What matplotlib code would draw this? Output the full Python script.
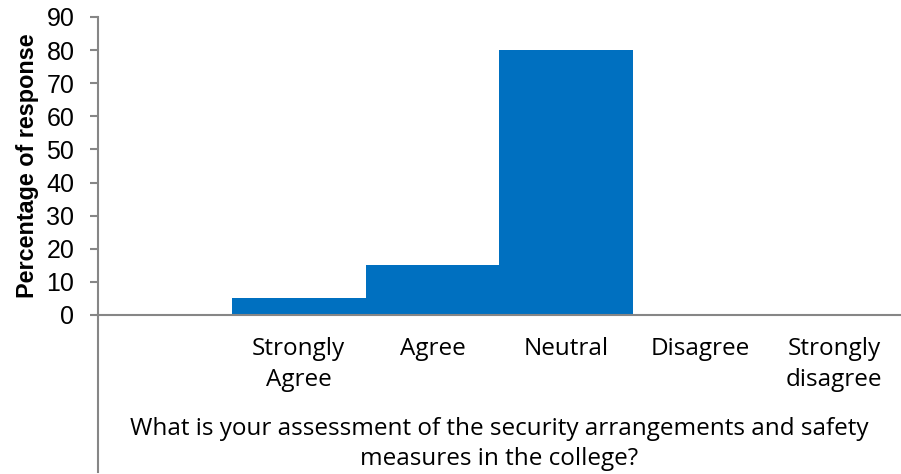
import matplotlib
matplotlib.use("Agg")
import matplotlib.pyplot as plt
from matplotlib.lines import Line2D

categories = ["", "Strongly\nAgree", "Agree", "Neutral", "Disagree", "Strongly\ndisagree"]
values = [0, 5, 15, 80, 0, 0]
yticks = [0, 10, 20, 30, 40, 50, 60, 70, 80, 90]

W, H = 901, 474
fig = plt.figure(figsize=(W / 100, H / 100), dpi=100)
ax = fig.add_axes([98 / W, (H - 315) / H, (W - 98) / W, (315 - 17) / H])

axis_color = "#868686"
ax.bar(range(len(categories)), values, width=1.0, color="#0070C0", zorder=2)

ax.set_xlim(-0.5, len(categories) - 0.5)
ax.set_ylim(0, 90)
ax.set_yticks(yticks)
ax.set_yticklabels([str(v) for v in yticks], fontfamily="Liberation Sans", fontsize=18)
ax.set_xticks(range(len(categories)))
ax.set_xticklabels(categories, fontfamily="Open Sans", fontsize=17.5, linespacing=1.35)

for s in ["top", "right"]:
    ax.spines[s].set_visible(False)
ax.spines["left"].set_color(axis_color)
ax.spines["bottom"].set_color(axis_color)
ax.spines["left"].set_linewidth(1.5)
ax.spines["bottom"].set_linewidth(1.5)

ax.tick_params(axis="y", direction="out", length=6, width=1.5, color=axis_color, pad=11)
ax.tick_params(axis="x", length=0, pad=16)

ax.set_ylabel("Percentage of response", fontfamily="Liberation Sans", fontweight="bold",
              fontsize=16.8, labelpad=5)

fig.text((98 + W) / 2 / W, 1 - 444 / H,
         "What is your assessment of the security arrangements and safety\nmeasures in the college?",
         ha="center", va="center", fontfamily="Open Sans", fontsize=17.5, linespacing=1.37)

fig.add_artist(Line2D([98 / W, 98 / W], [(H - 315) / H, (H - 472) / H],
                      transform=fig.transFigure, color=axis_color, linewidth=1.5))

fig.savefig("out.png", dpi=100)
